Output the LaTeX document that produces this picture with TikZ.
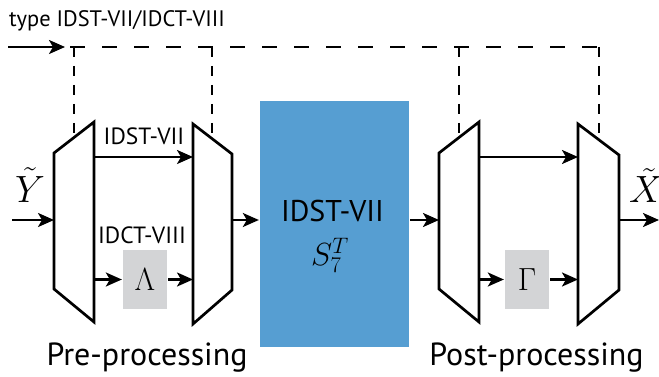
\RequirePackage{fix-cm}
\documentclass[tikz,border=0pt]{standalone}
\usepackage{amsmath}
\usepackage{fontspec}
\setmainfont{PT Sans}
\usepackage{tikz}
\usetikzlibrary{arrows.meta}
\definecolor{coreblue}{RGB}{86,158,210}
\definecolor{boxgray}{RGB}{211,212,214}

\begin{document}
\begin{tikzpicture}[x=1pt, y=-1pt, line width=2.3pt,
  arr/.style={-{Stealth[length=16pt,width=14pt,inset=4pt]}},
  mux/.style={line width=2.7pt, line join=miter},
  ctrl/.style={dash pattern=on 15pt off 17pt},
  ctrlv/.style={dash pattern=on 10pt off 9pt},
  graybox/.style={fill=boxgray, minimum width=44pt, minimum height=59pt, inner sep=0pt, font=\fontsize{32}{34}\selectfont},
  lbl/.style={inner sep=0pt, anchor=base}]
  \useasboundingbox (0,0) rectangle (659,377);

  % switches
  \draw[mux] (54,153) -- (94,122) -- (94,322) -- (54,289) -- cycle;
  \draw[mux] (193,124) -- (232,154) -- (232,290) -- (193,324) -- cycle;
  \draw[mux] (439,153) -- (479,122) -- (479,322) -- (439,289) -- cycle;
  \draw[mux] (578,124) -- (619,155) -- (619,290) -- (578,324) -- cycle;

  \node[fill=coreblue, minimum width=149pt, minimum height=246pt, inner sep=0pt] (core) at (334.5,224) {};
  \node[graybox] (lam) at (145,279.5) {$\Lambda$};
  \node[graybox] (gam) at (527,279.5) {$\Gamma$};

  \coordinate (yin) at (12,220);
  \coordinate (d1in) at (54,220);
  \coordinate (d1up) at (94,157);
  \coordinate (d1lo) at (94,279.5);
  \coordinate (m1up) at (193,157);
  \coordinate (m1lo) at (193,279.5);
  \coordinate (m1out) at (232,220);
  \coordinate (d2in) at (439,220);
  \coordinate (d2up) at (479,157);
  \coordinate (d2lo) at (479,279.5);
  \coordinate (m2up) at (578,157);
  \coordinate (m2lo) at (578,279.5);
  \coordinate (m2out) at (619,220);
  \coordinate (xout) at (659,220);
  \coordinate (tin) at (8,47);
  \coordinate (tout) at (65,47);

  \draw[arr] (yin) -- (d1in);
  \draw[arr] (d1up) -- (m1up);
  \draw[arr] (d1lo) -- (lam);
  \draw[arr] (lam) -- (m1lo);
  \draw[arr] (m1out) -- (m1out -| core.west);
  \draw[arr] (m1out -| core.east) -- (d2in);
  \draw[arr] (d2up) -- (m2up);
  \draw[arr] (d2lo) -- (gam);
  \draw[arr] (gam) -- (m2lo);
  \draw[arr] (m2out) -- (xout);
  \draw[arr] (tin) -- (tout);

  % control lines
  \draw[ctrl] (70,47) -- (599,47);
  \draw[ctrlv] (74,47) -- (74,138);
  \draw[ctrlv] (212,47) -- (212,139);
  \draw[ctrlv] (459,47) -- (459,138);
  \draw[ctrlv] (599,47) -- (599,140);

  \node[lbl, anchor=base west, font=\fontsize{22.4}{25}\selectfont] (type) at (8,27) {type IDST-VII/IDCT-VIII};
  \node[lbl, font=\fontsize{23.5}{26}\selectfont] (dst) at (144,145) {IDST-VII};
  \node[lbl, font=\fontsize{23.5}{26}\selectfont] (dct) at (142,243) {IDCT-VIII};
  \node[lbl, font=\fontsize{38}{40}\selectfont] (ytil) at (30,202) {$\tilde{Y}$};
  \node[lbl, font=\fontsize{38}{40}\selectfont] (xtil) at (646,203) {$\tilde{X}$};
  \node[lbl, font=\fontsize{30}{34}\selectfont] (coret) at (332.5,222) {IDST-VII};
  \node[lbl, font=\fontsize{32}{34}\selectfont] (cores) at (330,265) {$S_7^T$};
  \node[lbl, font=\fontsize{32}{34}\selectfont] (pre) at (147,365) {Pre-processing};
  \node[lbl, font=\fontsize{32}{34}\selectfont] (post) at (536.5,365) {Post-processing};
\end{tikzpicture}
\end{document}
